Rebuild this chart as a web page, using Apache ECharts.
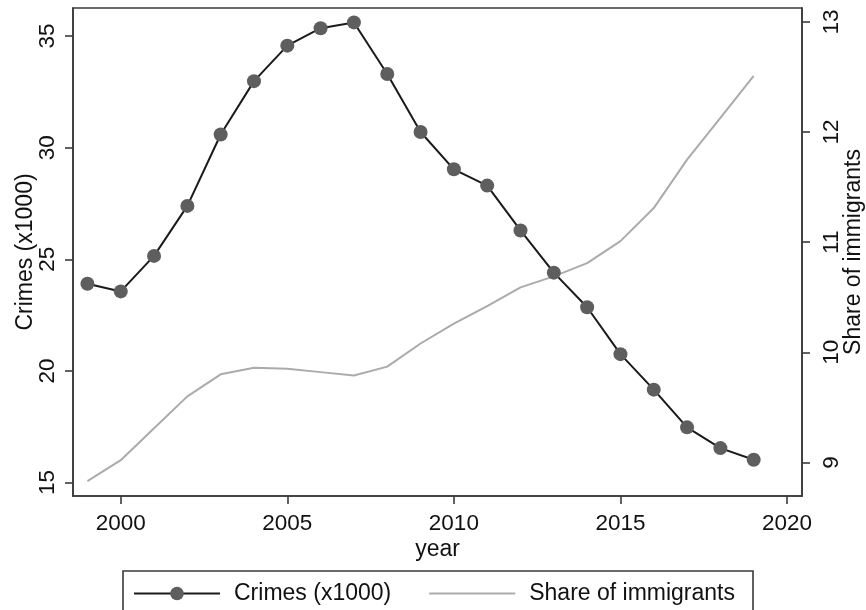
<!DOCTYPE html>
<html>
<head>
<meta charset="utf-8">
<script src="https://cdn.jsdelivr.net/npm/echarts@6/dist/echarts.min.js"></script>
<style>
  html, body { margin: 0; padding: 0; background: #fff; }
  #chart { width: 866px; height: 610px; }
</style>
</head>
<body>
<div id="chart"></div>
<script>
// Annual series, 1999-2019
var years = [1999, 2000, 2001, 2002, 2003, 2004, 2005, 2006, 2007, 2008, 2009,
             2010, 2011, 2012, 2013, 2014, 2015, 2016, 2017, 2018, 2019];
var crimes = [23.9, 23.56, 25.15, 27.39, 30.59, 32.98, 34.57, 35.35, 35.61, 33.3, 30.7,
              29.03, 28.3, 26.29, 24.4, 22.85, 20.75, 19.16, 17.47, 16.54, 16.02];
var share = [8.83, 9.02, 9.31, 9.60, 9.80, 9.86, 9.85, 9.82, 9.79, 9.87, 10.08,
             10.26, 10.42, 10.59, 10.69, 10.81, 11.01, 11.31, 11.75, 12.13, 12.51];

// Tick positions
var yearTicks = [2000, 2005, 2010, 2015, 2020];
var crimeTicks = [15, 20, 25, 30, 35];
var shareTicks = [9, 10, 11, 12, 13];

var FONT = '"Liberation Sans", Arial, sans-serif';
var TXT = '#111111';
var AX = '#3a3a3a';

function pairs(xs, ys) {
  return xs.map(function (x, i) { return [x, ys[i]]; });
}

var chart = echarts.init(document.getElementById('chart'), null, { renderer: 'canvas' });

chart.setOption({
  backgroundColor: '#ffffff',
  animation: false,
  textStyle: { fontFamily: FONT, color: TXT },
  grid: {
    left: 73, right: 64, top: 8, bottom: 114,
    containLabel: false, outerBoundsMode: 'none',
    show: true, borderColor: AX, borderWidth: 1.6, backgroundColor: 'transparent'
  },
  legend: {
    left: 123, top: 571,
    orient: 'horizontal',
    padding: [11, 18, 20, 10],
    borderColor: AX, borderWidth: 1.6,
    itemWidth: 86, itemHeight: 17, itemGap: 37,
    textStyle: { fontFamily: FONT, fontSize: 23, color: TXT, padding: [0, 0, 0, 9] },
    data: [
      { name: 'Crimes (x1000)' },
      { name: 'Share of immigrants', itemStyle: { opacity: 0 } }
    ]
  },
  xAxis: {
    type: 'value',
    min: 1998.567, max: 2020.45,
    name: 'year', nameLocation: 'middle', nameGap: 42, nameMoveOverlap: false,
    nameTextStyle: { fontFamily: FONT, fontSize: 23, color: TXT },
    axisLine: { show: true, onZero: false, lineStyle: { color: AX, width: 1.6 } },
    axisTick: { show: true, inside: false, length: 8, customValues: yearTicks, lineStyle: { color: AX, width: 1.6 } },
    axisLabel: { customValues: yearTicks, margin: 16, fontSize: 22.5, color: TXT, fontFamily: FONT,
                 formatter: function (v) { return String(v); } },
    splitLine: { show: false }
  },
  yAxis: [
    {
      type: 'value', position: 'left',
      min: 14.395, max: 36.256,
      name: 'Crimes (x1000)', nameLocation: 'middle', nameRotate: 90, nameGap: 36, nameMoveOverlap: false,
      nameTextStyle: { fontFamily: FONT, fontSize: 23, color: TXT },
      axisLine: { show: true, onZero: false, lineStyle: { color: AX, width: 1.6 } },
      axisTick: { show: true, length: 8, customValues: crimeTicks, lineStyle: { color: AX, width: 1.6 } },
      axisLabel: { customValues: crimeTicks, rotate: 90, margin: 14, fontSize: 22.5, color: TXT, fontFamily: FONT },
      splitLine: { show: false }
    },
    {
      type: 'value', position: 'right',
      min: 8.695, max: 13.127,
      name: 'Share of immigrants', nameLocation: 'middle', nameRotate: 90, nameGap: 40, nameMoveOverlap: false,
      nameTextStyle: { fontFamily: FONT, fontSize: 23, color: TXT },
      axisLine: { show: true, onZero: false, lineStyle: { color: AX, width: 1.6 } },
      axisTick: { show: true, length: 8, customValues: shareTicks, lineStyle: { color: AX, width: 1.6 } },
      axisLabel: { customValues: shareTicks, rotate: 90, margin: 18, fontSize: 22.5, color: TXT, fontFamily: FONT },
      splitLine: { show: false }
    }
  ],
  series: [
    {
      name: 'Crimes (x1000)',
      type: 'line',
      yAxisIndex: 0,
      data: pairs(years, crimes),
      symbol: 'circle', symbolSize: 14, showSymbol: true,
      lineStyle: { color: '#1a1a1a', width: 2 },
      itemStyle: { color: '#5e5e5e', borderWidth: 0 },
      emphasis: { disabled: true }
    },
    {
      name: 'Share of immigrants',
      type: 'line',
      yAxisIndex: 1,
      data: pairs(years, share),
      symbol: 'none', showSymbol: false,
      lineStyle: { color: '#ababab', width: 2 },
      itemStyle: { color: '#ababab' },
      emphasis: { disabled: true }
    }
  ]
});
</script>
</body>
</html>
